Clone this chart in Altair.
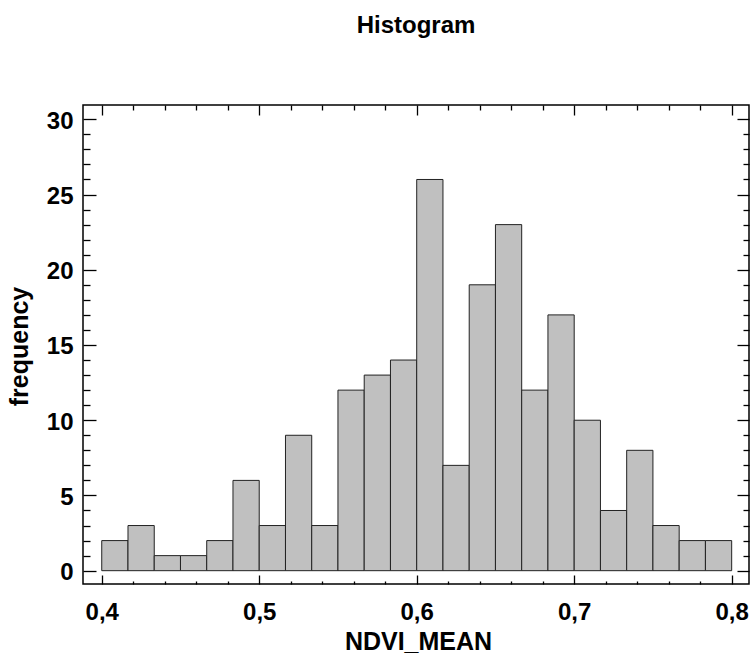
import altair as alt
import pandas as pd

# ---- data ----
counts = [2, 3, 1, 1, 2, 6, 3, 9, 3, 12, 13, 14, 26, 7, 19, 23, 12, 17, 10, 4, 8, 3, 2, 2]
bin_start = 0.4
bin_end = 0.8
x_major = [0.4, 0.5, 0.6, 0.7, 0.8]
x_minor = [0.42, 0.44, 0.46, 0.48, 0.52, 0.54, 0.56, 0.58, 0.62, 0.64, 0.66, 0.68,
           0.72, 0.74, 0.76, 0.78]
y_major = [0, 5, 10, 15, 20, 25, 30]
y_minor = [1, 2, 3, 4, 6, 7, 8, 9, 11, 12, 13, 14, 16, 17, 18, 19, 21, 22, 23, 24,
           26, 27, 28, 29]

n = len(counts)
w = (bin_end - bin_start) / n
df = pd.DataFrame({
    "lo": [bin_start + i * w for i in range(n)],
    "hi": [bin_start + (i + 1) * w for i in range(n)],
    "count": counts,
    "base": [0] * n,
})

FONT = "Liberation Sans"
xscale = alt.Scale(domain=[0.3881, 0.811], nice=False, zero=False)
yscale = alt.Scale(domain=[-0.885, 30.95], nice=False, zero=False)


def tick_axis(orient, values, size):
    return alt.Axis(orient=orient, values=values, labels=False, domain=False,
                    grid=False, title=None, ticks=True, tickSize=size,
                    offset=-size, tickColor="black", tickWidth=1.3)


bars = alt.Chart(df).mark_bar(fill="#c0c0c0", stroke="#222222", strokeWidth=1).encode(
    x=alt.X("lo:Q", scale=xscale, axis=alt.Axis(
        orient="bottom", values=x_major,
        labelExpr="replace(format(datum.value, '.1f'), '.', ',')",
        ticks=False, domain=False, grid=False, labelFlush=False, labelOverlap=False,
        labelFont=FONT, labelFontSize=24, labelFontWeight="bold", labelColor="black",
        labelPadding=16,
        title="NDVI_MEAN", titleFont=FONT, titleFontSize=25, titleFontWeight="bold",
        titleColor="black", titleX=335, titleY=65, titleBaseline="alphabetic",
        titleAlign="center")),
    x2="hi:Q",
    y=alt.Y("count:Q", scale=yscale, axis=alt.Axis(
        orient="left", values=y_major, format="d",
        ticks=False, domain=False, grid=False, labelFlush=False, labelOverlap=False,
        labelFont=FONT, labelFontSize=24, labelFontWeight="bold", labelColor="black",
        labelPadding=10, labelOffset=2,
        title="frequency", titleFont=FONT, titleFontSize=25, titleFontWeight="bold",
        titleColor="black", titleX=-56, titleY=241, titleAngle=-90,
        titleBaseline="alphabetic", titleAlign="center")),
    y2="base:Q",
)


def ghost(xaxis, yaxis):
    return alt.Chart(df).mark_point(opacity=0).encode(
        x=alt.X("lo:Q", scale=xscale, axis=xaxis),
        y=alt.Y("count:Q", scale=yscale, axis=yaxis),
    )


layers = [
    bars,
    ghost(tick_axis("bottom", x_major, 9), tick_axis("left", y_major, 13)),
    ghost(tick_axis("bottom", x_minor, 3), tick_axis("left", y_minor, 7)),
    ghost(tick_axis("top", x_major, 10), tick_axis("right", y_major, 12)),
    ghost(tick_axis("top", x_minor, 5), tick_axis("right", y_minor, 6)),
]

chart = alt.layer(*layers).resolve_axis(
    x="independent", y="independent"
).properties(
    width=666,
    height=479,
    autosize=alt.AutoSizeParams(type="none"),
    padding={"left": 83, "top": 105, "right": 1, "bottom": 71},
    title=alt.TitleParams("Histogram", font=FONT, fontSize=24, fontWeight="bold",
                          color="black", anchor="middle", baseline="alphabetic",
                          offset=47),
).configure(
    background="white",
    view=alt.ViewConfig(stroke="black", strokeWidth=1.5),
)

chart.save("out.html", embed_options={"renderer": "svg", "actions": False})
